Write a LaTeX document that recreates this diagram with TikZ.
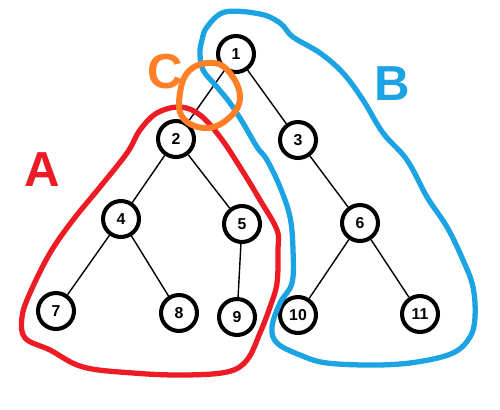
\documentclass[tikz,border=0pt]{standalone}
\usepackage{fontspec}
\setsansfont{Liberation Sans}
\usepackage{tikz}
\usetikzlibrary{positioning,calc}
\definecolor{grpred}{HTML}{ED1C24}
\definecolor{grpblue}{HTML}{1CA3E3}
\definecolor{grporange}{HTML}{FF7F27}
\tikzset{
  vtx/.style={circle,draw=black,fill=white,line width=2.3pt,minimum size=0.72cm,inner sep=0pt,font=\sffamily\bfseries\small},
  edg/.style={draw=black,line width=0.8pt},
  grp/.style={line width=3pt,line cap=round,line join=round},
  grplbl/.style={font=\sffamily\bfseries\fontsize{28}{30}\selectfont},
}
\begin{document}
\begin{tikzpicture}[x=0.02cm,y=-0.02cm]
  \useasboundingbox (0,0) rectangle (500,409);
  % tree
  \node[vtx] (n1) at (236,54) {1};
  \node[vtx] (n2) at (176,139) {2};
  \node[vtx] (n3) at (298,140) {3};
  \node[vtx] (n4) at (121,219) {4};
  \node[vtx] (n5) at (242,224) {5};
  \node[vtx] (n6) at (360,223) {6};
  \node[vtx] (n7) at (56,311) {7};
  \node[vtx] (n8) at (179,313) {8};
  \node[vtx] (n9) at (237,317) {9};
  \node[vtx] (n10) at (298,315) {10};
  \node[vtx] (n11) at (420,314) {11};
  \foreach \a/\b in {n1/n2,n1/n3,n2/n4,n2/n5,n3/n6,n4/n7,n4/n8,n5/n9,n6/n10,n6/n11}
    \draw[edg] (\a) -- (\b);
  % groups
  \draw[grp,grpblue] plot[smooth cycle,tension=0.6] coordinates {(225,12) (260,14) (280,23) (293,37) (320,53) (343,73) (363,100) (383,133) (407,160) (427,197) (447,227) (463,260) (473,287) (475,317) (470,337) (453,353) (417,362) (377,365) (327,363) (300,355) (277,343) (272,327) (280,303) (292,283) (293,250) (290,217) (280,187) (267,160) (257,147) (243,123) (230,103) (217,87) (203,70) (200,53) (202,40) (207,27)};
  \draw[grp,grpred] plot[smooth cycle,tension=0.6] coordinates {(180,107) (200,115) (220,137) (240,167) (260,200) (277,230) (278,250) (277,283) (270,307) (260,333) (247,360) (227,372) (183,375) (133,373) (83,367) (50,350) (25,338) (22,317) (30,293) (50,253) (73,220) (100,187) (127,153) (140,130) (157,113)};
  \draw[grp,grporange,line width=3.4pt] plot[smooth cycle,tension=0.7] coordinates {(213,63) (230,73) (240,97) (230,117) (207,128) (183,118) (180,93) (190,70)};
  \node[grplbl,text=grpred] (lblA) at (42,170) {A};
  \node[grplbl,text=grpblue] (lblB) at (392,84) {B};
  \node[grplbl,text=grporange] (lblC) at (165,72) {C};
\end{tikzpicture}
\end{document}
